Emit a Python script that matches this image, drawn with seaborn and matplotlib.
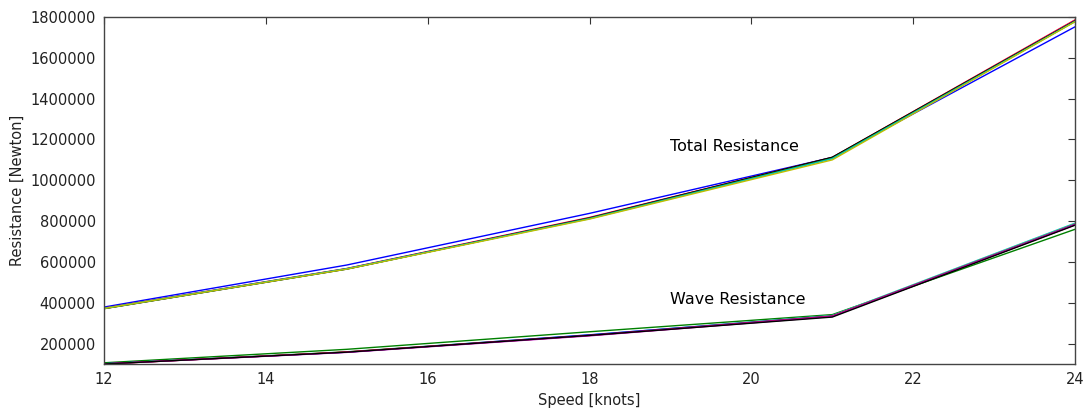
import matplotlib
matplotlib.use("Agg")
import matplotlib.pyplot as plt
import seaborn as sns
import pandas as pd

# Ship speeds (knots)
speed = [12, 15, 18, 21, 24]

# Total resistance per calculation case [N]
total_case1 = [379000, 585000, 838000, 1112000, 1752000]
total_case2 = [374000, 568000, 818000, 1112000, 1786000]
total_case3 = [373000, 567000, 816000, 1110000, 1783000]
total_case4 = [371000, 565000, 815000, 1113000, 1781000]
total_case5 = [372000, 566000, 814000, 1108000, 1779000]
total_case6 = [373000, 567000, 812000, 1106000, 1778000]
total_case7 = [372000, 565000, 810000, 1100000, 1777000]

# Wave resistance per calculation case [N]
wave_case1 = [106000, 172000, 258000, 342000, 760000]
wave_case2 = [101000, 160000, 242000, 338000, 790000]
wave_case3 = [100000, 159000, 241000, 336000, 786000]
wave_case4 = [101000, 158000, 243000, 335000, 784000]
wave_case5 = [100000, 159000, 240000, 334000, 782000]
wave_case6 = [100000, 157000, 238000, 333000, 783000]
wave_case7 = [100000, 158000, 240000, 330000, 780000]

totals = [total_case1, total_case2, total_case3, total_case4,
          total_case5, total_case6, total_case7]
waves = [wave_case1, wave_case2, wave_case3, wave_case4,
         wave_case5, wave_case6, wave_case7]

# classic matplotlib colour cycle, continued across total/wave pairs
cycle = ["#0000ff", "#008000", "#ff0000", "#00bfbf",
         "#bf00bf", "#bfbf00", "#000000"]

rows = []
order = []
palette = {}
k = 0
for i, (tot, wav) in enumerate(zip(totals, waves), start=1):
    for name, vals in ((f"total {i}", tot), (f"wave {i}", wav)):
        order.append(name)
        palette[name] = cycle[k % len(cycle)]
        k += 1
        for s, v in zip(speed, vals):
            rows.append({"speed": s, "resistance": v, "series": name})
df = pd.DataFrame(rows)

sns.set_style("white")
plt.rcParams["font.family"] = ["DejaVu Sans"]

fig = plt.figure(figsize=(10.86, 4.09), dpi=100)
ax = fig.add_axes([0.0958, 0.110, 0.8941, 0.8484])

sns.lineplot(data=df, x="speed", y="resistance", hue="series",
             hue_order=order, palette=palette, linewidth=1.0,
             sort=False, legend=False, ax=ax, estimator=None)

ax.text(19, 1145000, "Total Resistance", fontsize=11.5, color="black")
ax.text(19, 395000, "Wave Resistance", fontsize=11.5, color="black")

ax.set_xlim(12, 24)
ax.set_ylim(100000, 1800000)
ax.set_xticks([12, 14, 16, 18, 20, 22, 24])
ax.set_yticks([200000, 400000, 600000, 800000, 1000000,
               1200000, 1400000, 1600000, 1800000])
ax.set_yticklabels([str(v) for v in ax.get_yticks().astype(int)])
ax.set_xlabel("Speed [knots]", fontsize=10.5, color="#222222")
ax.set_ylabel("Resistance [Newton]", fontsize=10.5, color="#222222")
ax.tick_params(axis="both", direction="in", length=5, width=0.8,
               labelsize=10.5, labelcolor="#222222", color="#333333",
               top=True, right=True, pad=6)
for sp in ax.spines.values():
    sp.set_color("#444444")
    sp.set_linewidth(1.0)

fig.savefig("out.png", dpi=100, facecolor="white")
